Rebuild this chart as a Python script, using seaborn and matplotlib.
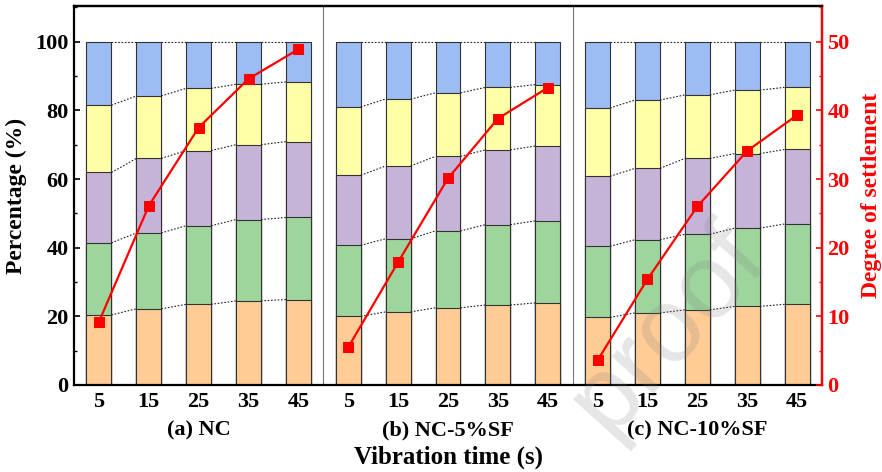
import seaborn as sns
import matplotlib.pyplot as plt
import matplotlib.transforms as mtransforms
from matplotlib.ticker import MultipleLocator
import pandas as pd

# values
times = [5, 15, 25, 35, 45]
panels = ["(a) NC", "(b) NC-5%SF", "(c) NC-10%SF"]

# share of each layer (%), bottom to top, one list per panel
layer1 = [20.4, 22.2, 23.5, 24.5, 24.9, 20.0, 21.3, 22.5, 23.3, 23.9, 19.7, 21.0, 21.9, 22.9, 23.5]
layer2 = [21.0, 22.1, 22.9, 23.7, 23.9, 20.7, 21.3, 22.4, 23.4, 23.9, 20.7, 21.3, 22.0, 22.8, 23.4]
layer3 = [20.5, 21.7, 21.9, 21.8, 22.1, 20.4, 21.2, 21.7, 21.8, 21.8, 20.4, 20.8, 22.1, 21.7, 21.7]
layer4 = [19.6, 18.2, 18.1, 17.6, 17.4, 19.9, 19.5, 18.5, 18.2, 17.9, 19.9, 19.9, 18.5, 18.5, 18.1]
layer5 = [18.5, 15.8, 13.6, 12.4, 11.7, 19.0, 16.7, 14.9, 13.3, 12.5, 19.3, 17.0, 15.5, 14.1, 13.3]

# degree of settlement
settle_nc = [9.2, 26.1, 37.5, 44.6, 48.9]
settle_5sf = [5.5, 17.9, 30.1, 38.8, 43.3]
settle_10sf = [3.6, 15.4, 26.0, 34.1, 39.3]

layer_colors = ["#FFCC96", "#9DD59D", "#C6B4D8", "#FFFFA8", "#9DBCF4"]

sns.set_theme(style="white")
plt.rcParams["font.family"] = ["Liberation Serif", "DejaVu Serif"]
plt.rcParams["font.weight"] = "bold"
for key in ["text.color", "axes.labelcolor", "xtick.color", "ytick.color"]:
    plt.rcParams[key] = "black"

df = pd.DataFrame({
    "pos": list(range(15)),
    "panel": [p for p in panels for _ in times],
    "time": times * 3,
    "l1": layer1, "l2": layer2, "l3": layer3, "l4": layer4, "l5": layer5,
})
layers = ["l1", "l2", "l3", "l4", "l5"]
cum = df[layers].cumsum(axis=1)
df["settle"] = settle_nc + settle_5sf + settle_10sf

fig = plt.figure(figsize=(8.82, 4.72), dpi=100)
ax = fig.add_axes([74 / 882, 1 - 385 / 472, 748 / 882, 379 / 472])

# stacked bars: draw cumulative totals from the top layer down
for i in range(4, -1, -1):
    d = pd.DataFrame({"pos": df["pos"], "top": cum[layers[i]]})
    sns.barplot(data=d, x="pos", y="top", native_scale=True, color=layer_colors[i],
                saturation=1, width=0.5, edgecolor="#333333", linewidth=0.8,
                errorbar=None, ax=ax)

# dotted connectors between neighbouring bars within a panel
for p in range(3):
    for k in range(4):
        a = p * 5 + k
        for lay in layers:
            ax.plot([a + 0.25, a + 0.75], [cum[lay][a], cum[lay][a + 1]],
                    ls=(0, (1.5, 1.5)), color="#222222", lw=0.8)

# panel dividers
for xv in [4.5, 9.5]:
    ax.axvline(xv, color="#777777", lw=0.8)

ax.set_xlim(-0.5, 14.5)
ax.set_ylim(0, 110.4)
ax.set_xticks(range(15))
ax.set_xticklabels([str(t) for t in times] * 3, fontsize=16, fontweight="bold")
ax.set_xlabel("")
ax.set_ylabel("Percentage (%)", fontsize=17, fontweight="bold", labelpad=6)
ax.set_yticks([0, 20, 40, 60, 80, 100])
ax.yaxis.set_minor_locator(MultipleLocator(10))
ax.tick_params(axis="x", length=0, pad=5)
ax.tick_params(axis="y", which="major", direction="in", length=4, width=1.2,
               labelsize=16, pad=4)
ax.tick_params(axis="y", which="minor", direction="in", length=2, width=1.0, left=True)
for lab in ax.get_yticklabels():
    lab.set_fontweight("bold")
for s in ["left", "top", "bottom", "right"]:
    ax.spines[s].set_color("black")
    ax.spines[s].set_linewidth(1.6)

# degree of settlement on the right axis
ax2 = ax.twinx()
sns.lineplot(data=df, x="pos", y="settle", hue="panel", palette=["red"] * 3,
             marker="s", markersize=7, markeredgecolor="red", linewidth=1.6,
             legend=False, ax=ax2)
ax2.set_ylim(0, 55.2)
ax2.set_xlim(-0.5, 14.5)
ax2.set_yticks([0, 10, 20, 30, 40, 50])
ax2.yaxis.set_minor_locator(MultipleLocator(5))
ax2.set_ylabel("Degree of settlement", color="red", fontsize=17, fontweight="bold",
               labelpad=8)
ax2.set_xlabel("")
ax2.tick_params(axis="y", which="major", direction="in", length=4, width=1.2,
                colors="red", labelsize=16, pad=4)
ax2.tick_params(axis="y", which="minor", direction="in", length=2, width=1.0,
                colors="red", right=True)
for lab in ax2.get_yticklabels():
    lab.set_fontweight("bold")
ax2.spines["right"].set_color("red")
ax2.spines["right"].set_linewidth(1.6)
ax2.spines["top"].set_color("black")
ax2.spines["top"].set_linewidth(1.6)
ax2.spines["left"].set_visible(False)
ax2.spines["bottom"].set_visible(False)

# group labels and common x label
trans = mtransforms.blended_transform_factory(ax.transData, fig.transFigure)
for p, name in enumerate(panels):
    fig.text(p * 5 + 2, 1 - 430 / 472, name, transform=trans, ha="center",
             va="center", fontsize=16, fontweight="bold")
fig.text(0.5 * (74 + 822) / 882, 1 - 457 / 472, "Vibration time (s)", ha="center",
         va="center", fontsize=18, fontweight="bold")

# faint watermark
fig.text(668 / 882, 1 - 330 / 472, "proof", fontsize=76, family="Liberation Sans",
         fontweight="normal", color="0.5", alpha=0.2, rotation=48,
         ha="center", va="center")

fig.savefig("out.png", dpi=100)
